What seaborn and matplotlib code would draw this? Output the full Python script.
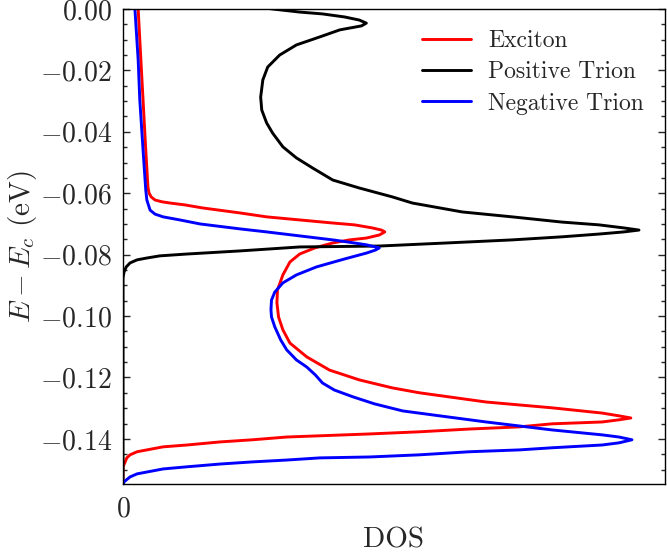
import pandas as pd
import seaborn as sns
import matplotlib.pyplot as plt

# DOS (arbitrary units) vs energy E - E_c (eV)
exciton_dos = [0.028, 0.028, 0.033, 0.037, 0.042, 0.046, 0.048, 0.052, 0.059, 0.072,
               0.087, 0.114, 0.147, 0.215, 0.265, 0.326, 0.387, 0.427, 0.460, 0.477,
               0.483, 0.473, 0.449, 0.418, 0.387, 0.354, 0.326, 0.308, 0.295, 0.285,
               0.284, 0.287, 0.295, 0.308, 0.339, 0.381, 0.436, 0.497, 0.547, 0.670,
               0.792, 0.884, 0.915, 0.937, 0.915, 0.884, 0.792, 0.731, 0.639, 0.547,
               0.455, 0.363, 0.302, 0.239, 0.179, 0.118, 0.074, 0.044, 0.026, 0.013,
               0.007, 0.004, 0.0, 0.0]
exciton_e = [0.0013, 0.0, -0.0166, -0.0296, -0.0459, -0.0580, -0.0599, -0.0612, -0.0622, -0.0628,
             -0.0632, -0.0638, -0.0648, -0.0664, -0.0677, -0.0687, -0.0697, -0.0703, -0.0713, -0.0720,
             -0.0726, -0.0736, -0.0746, -0.0752, -0.0762, -0.0778, -0.0798, -0.0824, -0.0866, -0.0915,
             -0.0957, -0.1003, -0.1045, -0.1088, -0.1133, -0.1176, -0.1208, -0.1234, -0.1250, -0.1280,
             -0.1299, -0.1316, -0.1325, -0.1332, -0.1338, -0.1345, -0.1351, -0.1361, -0.1368, -0.1377,
             -0.1384, -0.1390, -0.1394, -0.1403, -0.1410, -0.1420, -0.1426, -0.1436, -0.1442, -0.1452,
             -0.1462, -0.1475, -0.1491, -0.1560]

pos_trion_dos = [0.225, 0.276, 0.326, 0.368, 0.409, 0.436, 0.449, 0.440, 0.400, 0.363,
                 0.320, 0.289, 0.267, 0.258, 0.254, 0.256, 0.265, 0.276, 0.295, 0.320,
                 0.350, 0.387, 0.436, 0.497, 0.534, 0.626, 0.718, 0.810, 0.878, 0.924,
                 0.952, 0.924, 0.878, 0.810, 0.718, 0.597, 0.473, 0.326, 0.215, 0.118,
                 0.068, 0.044, 0.026, 0.013, 0.006, 0.002, 0.0, 0.0]
pos_trion_e = [0.0013, 0.0, -0.0010, -0.0016, -0.0026, -0.0036, -0.0046, -0.0055, -0.0068, -0.0091,
               -0.0117, -0.0150, -0.0189, -0.0231, -0.0287, -0.0329, -0.0371, -0.0404, -0.0449, -0.0485,
               -0.0518, -0.0557, -0.0583, -0.0612, -0.0632, -0.0661, -0.0677, -0.0694, -0.0703, -0.0713,
               -0.0720, -0.0726, -0.0733, -0.0742, -0.0752, -0.0762, -0.0772, -0.0775, -0.0788, -0.0798,
               -0.0804, -0.0811, -0.0817, -0.0827, -0.0840, -0.0856, -0.0876, -0.1560]

neg_trion_dos = [0.022, 0.022, 0.028, 0.031, 0.037, 0.042, 0.044, 0.050, 0.059, 0.074,
                 0.105, 0.142, 0.215, 0.265, 0.326, 0.387, 0.427, 0.449, 0.466, 0.473,
                 0.466, 0.449, 0.409, 0.357, 0.320, 0.295, 0.280, 0.274, 0.273, 0.274,
                 0.280, 0.291, 0.302, 0.320, 0.339, 0.355, 0.368, 0.390, 0.424, 0.464,
                 0.516, 0.584, 0.670, 0.792, 0.884, 0.915, 0.939, 0.915, 0.884, 0.792,
                 0.731, 0.639, 0.547, 0.455, 0.363, 0.302, 0.239, 0.179, 0.118, 0.074,
                 0.044, 0.026, 0.013, 0.006, 0.002, 0.0, 0.0]
neg_trion_e = [0.0013, 0.0, -0.0166, -0.0296, -0.0459, -0.0589, -0.0622, -0.0655, -0.0668, -0.0677,
               -0.0687, -0.0700, -0.0716, -0.0726, -0.0739, -0.0752, -0.0762, -0.0768, -0.0775, -0.0778,
               -0.0785, -0.0795, -0.0814, -0.0840, -0.0866, -0.0892, -0.0922, -0.0948, -0.0980, -0.1003,
               -0.1035, -0.1078, -0.1110, -0.1143, -0.1166, -0.1192, -0.1218, -0.1241, -0.1263, -0.1286,
               -0.1309, -0.1325, -0.1345, -0.1371, -0.1387, -0.1394, -0.1403, -0.1413, -0.1420, -0.1429,
               -0.1436, -0.1442, -0.1452, -0.1459, -0.1462, -0.1469, -0.1475, -0.1482, -0.1491, -0.1498,
               -0.1508, -0.1514, -0.1524, -0.1534, -0.1540, -0.1550, -0.1560]

labels = ['Exciton', 'Positive Trion', 'Negative Trion']
colors = ['red', 'black', 'blue']

frames = []
for lab, dos, e in zip(labels, [exciton_dos, pos_trion_dos, neg_trion_dos],
                       [exciton_e, pos_trion_e, neg_trion_e]):
    frames.append(pd.DataFrame({'DOS': dos, 'E': e, 'state': lab}))
df = pd.concat(frames, ignore_index=True)

sns.set_style('ticks')
plt.rcParams['font.family'] = 'serif'
plt.rcParams['font.serif'] = ['cmr10', 'DejaVu Serif']
plt.rcParams['mathtext.fontset'] = 'cm'
plt.rcParams['axes.formatter.use_mathtext'] = True

fig = plt.figure(figsize=(6.67, 5.52), dpi=100)
ax = fig.add_axes([0.1844, 0.1232, 0.8126, 0.8605])

sns.lineplot(data=df, x='DOS', y='E', hue='state', hue_order=labels,
             palette=dict(zip(labels, colors)), sort=False, estimator=None,
             linewidth=2.1, ax=ax)

ax.set_xlim(0, 1)
ax.set_ylim(-0.1547, 0)
ax.set_xticks([0])
ax.set_xticklabels(['$0$'])
ax.set_yticks([0, -0.02, -0.04, -0.06, -0.08, -0.10, -0.12, -0.14])
ax.set_yticks([-0.005 * i for i in range(31)], minor=True)
ax.yaxis.set_major_formatter(plt.FuncFormatter(lambda v, p: '$%.2f$' % v if v != 0 else '$0.00$'))
ax.tick_params(axis='both', which='both', direction='in', right=True, labelsize=20)
ax.tick_params(axis='y', which='major', length=5, width=1, pad=8)
ax.tick_params(axis='y', which='minor', length=3, width=1)
ax.tick_params(axis='x', which='major', pad=9)
ax.tick_params(axis='x', which='minor', bottom=False, top=False)
for s in ax.spines.values():
    s.set_linewidth(1)
    s.set_color('black')

ax.set_xlabel('DOS', fontsize=21, va='center')
ax.xaxis.set_label_coords(0.5, -0.118)
ax.set_ylabel('$E - E_c$ (eV)', fontsize=21, va='center')
ax.yaxis.set_label_coords(-0.186, 0.5)
ax.legend(loc='upper right', frameon=False, fontsize=17, handlelength=2.1,
          handletextpad=0.7, labelspacing=0.38, borderaxespad=0.5)

fig.savefig('out.png', dpi=100)
